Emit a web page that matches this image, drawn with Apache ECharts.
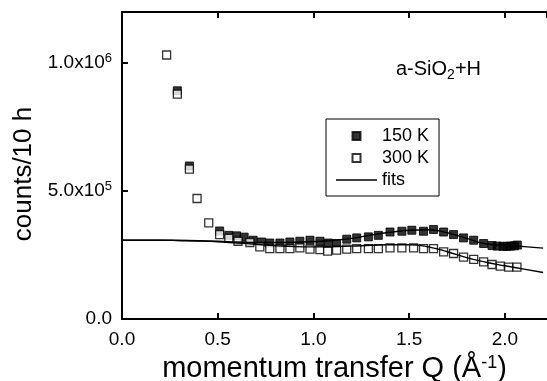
<!doctype html>
<html>
	<head>
		<meta charset="utf-8">
		<title>counts vs Q</title>
		<style>
			html, body { margin: 0; padding: 0; background: #fff; }
		</style>
	</head>
	<body>
		<div id="container" style="height: 381px; width: 547px;"></div>

		<script src="https://cdn.jsdelivr.net/npm/echarts@6/dist/echarts.min.js"></script>

		<script>
			// measured points, Q in 1/A, counts per 10 h
			var q150 = [0.289, 0.352, 0.510, 0.558, 0.598, 0.638, 0.685, 0.729, 0.772, 0.825, 0.877, 0.929, 0.982, 1.034, 1.078, 1.121, 1.174, 1.226, 1.287, 1.339, 1.400, 1.462, 1.514, 1.575, 1.627, 1.680, 1.732, 1.784, 1.837, 1.889, 1.933, 1.960, 1.990, 2.010, 2.030, 2.050, 2.065];
			var c150 = [892000, 598000, 344000, 327000, 325000, 320000, 308000, 301000, 297000, 297000, 301000, 304000, 308000, 304000, 297000, 295000, 312000, 317000, 321000, 327000, 340000, 343000, 347000, 343000, 350000, 340000, 330000, 317000, 308000, 295000, 287000, 285000, 284000, 284000, 285000, 286000, 289000];

			var q300 = [0.233, 0.289, 0.352, 0.392, 0.453, 0.510, 0.558, 0.606, 0.668, 0.720, 0.772, 0.825, 0.877, 0.929, 0.982, 1.034, 1.074, 1.121, 1.174, 1.226, 1.287, 1.339, 1.400, 1.462, 1.523, 1.575, 1.627, 1.680, 1.732, 1.784, 1.837, 1.889, 1.933, 1.976, 2.020, 2.063];
			var c300 = [1032000, 879000, 586000, 471000, 376000, 330000, 315000, 304000, 299000, 282000, 275000, 275000, 275000, 278000, 273000, 271000, 265000, 269000, 273000, 275000, 275000, 275000, 278000, 278000, 278000, 275000, 275000, 262000, 256000, 242000, 233000, 223000, 213000, 207000, 203000, 203000];

			// fit curves
			var fitQ = [0, 0.1, 0.2, 0.3, 0.4, 0.5, 0.6, 0.7, 0.8, 0.9, 1.0, 1.1, 1.2, 1.3, 1.4, 1.5, 1.6, 1.7, 1.8, 1.9, 2.0, 2.1, 2.2];
			var fit150 = [308000, 308000, 308000, 307000, 306000, 304000, 301000, 299000, 299000, 300000, 303000, 307000, 315000, 328000, 339000, 347000, 349000, 337000, 315000, 294000, 288000, 283000, 277000];
			var fit300 = [308000, 308000, 308000, 307000, 305000, 302000, 297000, 292000, 287000, 283000, 282000, 283000, 285000, 288000, 290000, 290000, 282000, 263000, 240000, 222000, 208000, 195000, 182000];

			var xTicks = ['0.0', '0.5', '1.0', '1.5', '2.0'];
			var yTicks = {0: '0.0', 500000: '5.0x10{s|5}', 1000000: '1.0x10{s|6}'};

			var FONT = '"Liberation Sans", Arial, sans-serif';

			function pairs(xs, ys) {
				var out = [];
				for (let i = 0; i < xs.length; i++) out.push([xs[i], ys[i]]);
				return out;
			}

			var dom = document.getElementById("container");
			var myChart = echarts.init(dom, null, {renderer: 'canvas'});

			var sq = 'path://M0 0H10V10H0Z';
			var dash = 'path://M0 0H41V1.4H0Z';

			let opts = {
				animation: false,
				backgroundColor: '#fff',
				textStyle: { fontFamily: FONT, color: '#000' },
				title: {
					text: 'a-SiO{sub|2}+H',
					left: 396,
					top: 56,
					padding: 0,
					textStyle: {
						fontFamily: FONT,
						fontWeight: 'normal',
						fontSize: 20,
						color: '#000',
						rich: {
							sub: { fontFamily: FONT, fontSize: 14, color: '#000', padding: [12, 0, 0, 0] }
						}
					}
				},
				legend: {
					orient: 'vertical',
					left: 326,
					top: 119,
					padding: [8, 10, 7, 10],
					borderColor: '#000',
					borderWidth: 1,
					itemWidth: 41,
					itemHeight: 8,
					itemGap: 4,
					symbolKeepAspect: true,
					textStyle: { fontFamily: FONT, fontSize: 18, color: '#000' },
					data: [
						{ name: '150 K', icon: sq },
						{ name: '300 K', icon: sq },
						{ name: 'fits', icon: dash, itemStyle: { color: '#000', borderWidth: 0 } }
					]
				},
				grid: {
					left: 122,
					top: 12,
					width: 425,
					bottom: 62,
					outerBoundsMode: 'none',
					containLabel: false
				},
				xAxis: [
					{
						type: 'value',
						min: 0,
						max: 2.22,
						interval: 0.5,
						name: 'momentum transfer Q (Å{s|-1})',
						nameLocation: 'middle',
						nameGap: 31,
						nameTextStyle: {
							fontFamily: FONT,
							fontSize: 29,
							color: '#000',
							rich: { s: { fontFamily: FONT, fontSize: 18, color: '#000', padding: [0, 0, 13, 0] } }
						},
						axisLine: { lineStyle: { color: '#000', width: 2 } },
						axisTick: { inside: true, length: 6, lineStyle: { color: '#000', width: 2 } },
						axisLabel: {
							fontFamily: FONT,
							fontSize: 19,
							color: '#000',
							margin: 11,
							showMaxLabel: false,
							formatter: function (v) {
								var i = Math.round(v / 0.5);
								return Math.abs(v - i * 0.5) < 1e-6 ? xTicks[i] : '';
							}
						},
						splitLine: { show: false }
					},
					{
						type: 'value',
						position: 'top',
						min: 0,
						max: 2.22,
						interval: 0.5,
						axisLine: { show: true, lineStyle: { color: '#000', width: 2 } },
						axisTick: { inside: true, length: 6, lineStyle: { color: '#000', width: 2 } },
						axisLabel: { show: false },
						splitLine: { show: false }
					}
				],
				yAxis: {
					type: 'value',
					min: 0,
					max: 1200000,
					interval: 500000,
					name: 'counts/10 h',
					nameLocation: 'middle',
					nameGap: 84,
					nameTextStyle: { fontFamily: FONT, fontSize: 26, color: '#000', padding: [0, 17, 0, 0] },
					axisLine: { show: true, lineStyle: { color: '#000', width: 2 } },
					axisTick: { inside: true, length: 6, lineStyle: { color: '#000', width: 2 } },
					axisLabel: {
						fontFamily: FONT,
						fontSize: 19,
						color: '#000',
						margin: 10,
						showMaxLabel: false,
						formatter: function (v) {
							return yTicks[v] !== undefined ? yTicks[v] : '';
						},
						rich: { s: { fontFamily: FONT, fontSize: 13, color: '#000', padding: [0, 0, 10, 0] } }
					},
					splitLine: { show: false }
				},
				series: [
					{
						name: '150 K',
						type: 'scatter',
						symbol: 'rect',
						symbolSize: 8,
						itemStyle: { color: '#000', borderColor: '#000', borderWidth: 1 },
						z: 2,
						data: pairs(q150, c150)
					},
					{
						name: '300 K',
						type: 'scatter',
						symbol: 'rect',
						symbolSize: 8,
						itemStyle: { color: '#fff', borderColor: '#000', borderWidth: 1.3 },
						z: 3,
						data: pairs(q300, c300)
					},
					{
						name: 'fits',
						type: 'line',
						smooth: true,
						symbol: 'none',
						lineStyle: { color: '#000', width: 1.4 },
						itemStyle: { color: '#000' },
						z: 4,
						data: pairs(fitQ, fit150)
					},
					{
						name: 'fits',
						type: 'line',
						smooth: true,
						symbol: 'none',
						lineStyle: { color: '#000', width: 1.4 },
						itemStyle: { color: '#000' },
						z: 4,
						data: pairs(fitQ, fit300)
					}
				]
			};

			myChart.setOption(opts, true);
		</script>
	</body>
</html>
